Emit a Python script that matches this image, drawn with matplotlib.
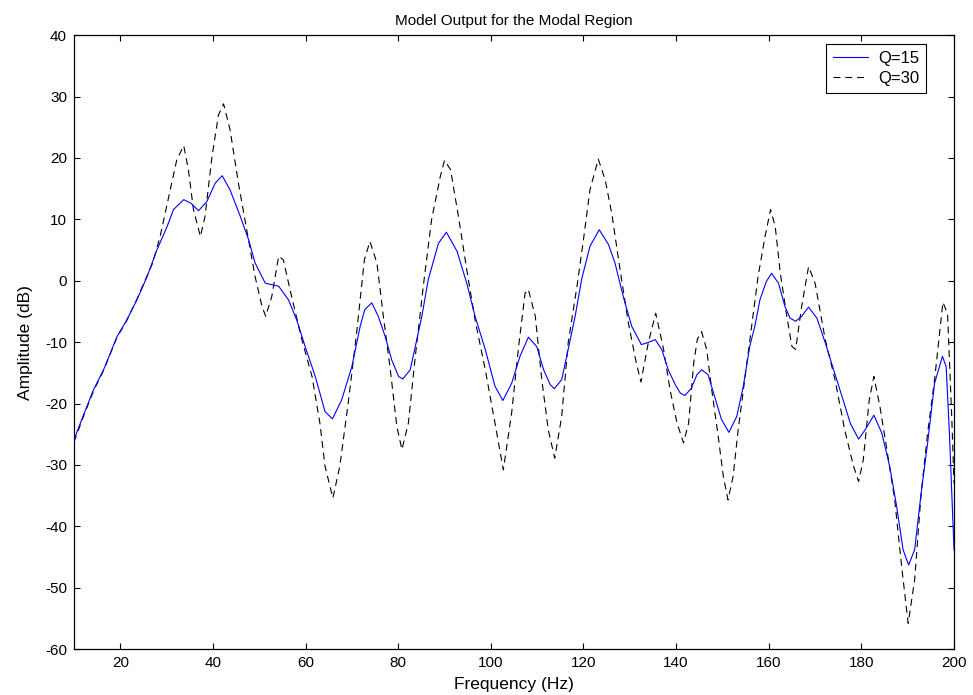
import numpy as np
import matplotlib
matplotlib.use("Agg")
from matplotlib import pyplot as plt

# Q=15 curve (solid blue)
freq_q15 = [10, 12.1, 14.2, 16.4, 19.3, 21.4, 23.6, 25.8, 27.9, 30.1, 31.5, 33.7, 35.3, 36.9,
            38.7, 40.5, 42.0, 43.7, 45.9, 47.7, 49.1, 51.3, 54.2, 56.3, 58.1, 59.9, 62.1, 64.2,
            65.8, 67.8, 70.0, 71.8, 72.8, 74.3, 75.7, 77.2, 78.6, 80.1, 81.0, 82.6, 83.7, 85.1,
            86.5, 88.7, 90.4, 92.7, 94.8, 96.6, 98.8, 100.9, 102.6, 104.5, 106.3, 108.1, 109.9,
            111.4, 112.8, 113.7, 115.3, 116.7, 118.2, 119.6, 121.4, 123.4, 125.4, 126.8, 128.6,
            130.4, 132.5, 133.8, 135.5, 136.9, 138.3, 139.8, 140.9, 141.9, 143.3, 144.5, 145.5,
            146.9, 148.4, 149.8, 151.4, 153.1, 154.5, 155.9, 157.0, 158.1, 159.5, 160.6, 162.1,
            163.5, 164.6, 165.8, 167.1, 168.6, 170.4, 172.2, 174.0, 175.8, 177.6, 179.4, 180.8,
            182.7, 184.4, 186.1, 187.6, 189.0, 190.2, 191.5, 192.9, 194.3, 195.8, 197.5, 198.3,
            199.0, 200]
amp_q15 = [-25.9, -21.8, -17.8, -14.5, -9.1, -6.4, -3.1, 0.7, 5.0, 8.8, 11.6, 13.2, 12.6, 11.4,
           12.9, 15.9, 17.1, 14.8, 10.5, 6.7, 2.9, -0.4, -0.9, -3.1, -6.4, -10.7, -15.6, -21.3,
           -22.5, -19.4, -14.0, -7.4, -4.7, -3.6, -5.8, -9.1, -12.9, -15.6, -16.0, -14.5, -10.7,
           -5.8, 0.2, 6.1, 7.9, 4.8, -0.4, -5.8, -11.2, -17.2, -19.5, -16.7, -12.3, -9.2, -10.7,
           -14.5, -16.9, -17.6, -16.1, -11.2, -5.8, 0.2, 5.6, 8.3, 5.9, 2.9, -2.6,
           -7.4, -10.4, -10.1, -9.6, -11.2, -14.5, -16.9, -18.3, -18.7, -17.5, -15.3, -14.5,
           -15.3, -19.1, -22.6, -24.7, -22.1, -17.2, -10.7, -7.4, -3.1, -0.1, 1.2, -0.4,
           -4.2, -6.1, -6.6, -5.8, -4.3, -6.1, -10.1, -14.5, -18.8, -23.2, -25.8, -24.3,
           -21.9, -24.8, -30.2, -36.7, -43.8, -46.3, -43.8, -34.6, -26.4, -16.7, -12.3, -14.0,
           -24.8, -43.8]

# Q=30 curve (dashed black)
freq_q30 = [10, 12.1, 14.2, 16.4, 19.3, 21.4, 23.6, 25.8, 27.0, 28.6, 30.8, 32.2, 33.7, 34.7,
            35.8, 37.3, 38.3, 39.8, 41.2, 42.3, 43.7, 45.5, 47.3, 49.1, 50.6, 51.4, 52.7, 54.2,
            55.2, 57.0, 59.2, 61.4, 63.1, 64.2, 65.9, 67.4, 69.3, 71.1, 72.7, 73.9, 75.4, 76.8,
            78.3, 79.7, 80.8, 82.2, 83.7, 85.5, 87.2, 89.1, 90.0, 91.3, 93.0, 94.8, 96.6, 98.8,
            100.9, 102.7, 104.5, 106.0, 107.4, 108.1, 109.6, 111.0, 112.4, 113.8, 115.3, 116.7,
            118.6, 120.0, 121.4, 123.2, 124.7, 126.1, 127.9, 129.7, 131.3, 132.4, 134.0, 135.6,
            137.3, 138.7, 140.2, 141.6, 142.7, 143.8, 144.6, 145.5, 146.6, 147.7, 149.1, 150.2,
            151.2, 152.3, 153.4, 154.9, 156.3, 157.7, 159.2, 160.4, 161.4, 162.5, 163.9, 165.0,
            165.8, 167.1, 168.6, 170.0, 172.2, 174.3, 176.4, 178.3, 179.4, 180.4, 181.7, 182.7,
            184.0, 185.4, 187.2, 188.7, 190.1, 191.5, 192.9, 194.3, 195.8, 197.6, 198.6, 199.0,
            199.5, 200]
amp_q30 = [-26.3, -22.0, -18.0, -14.6, -9.2, -6.5, -3.0, 0.8, 2.9, 7.2, 14.8, 19.7, 22.0, 18.1,
           11.6, 7.2, 10.5, 20.2, 27.0, 28.8, 24.6, 15.9, 8.3, 0.7, -4.2, -5.8, -2.6, 4.0,
           3.4, -2.6, -9.6, -15.6, -23.2, -30.2, -35.4, -30.2, -19.4, -8.0, 3.4, 6.4, 2.9, -5.8,
           -14.5, -23.7, -27.5, -23.2, -12.3, -0.4, 9.9, 17.0, 19.6, 18.1, 10.5, 1.8, -6.4, -14.5,
           -23.2, -30.8, -21.5, -10.7, -2.0, -1.4, -5.8, -16.1, -24.3, -28.9, -22.1, -10.1,
           -0.9, 6.7, 14.8, 19.8, 16.4, 11.0, 1.8, -6.9, -13.0, -16.5, -10.1, -5.3,
           -11.2, -17.8, -23.2, -26.4, -23.2, -13.4, -9.5, -8.3, -11.2, -17.8, -25.4, -31.9,
           -35.7, -31.9, -24.3, -15.6, -7.4, 0.7, 7.2, 11.6, 8.8, 1.2, -5.8, -10.7,
           -11.2, -4.2, 2.3, -0.4, -9.6, -16.1, -24.3, -30.2, -32.7, -29.2, -19.4, -15.6,
           -20.5, -27.0, -35.7, -46.6, -55.8, -48.7, -34.6, -24.8, -16.1, -3.5, -5.4, -12.9,
           -22.1, -33.0]

x_ticks = np.arange(20, 201, 20)
y_ticks = np.arange(-60, 41, 10)

plt.rcParams['font.family'] = ['Liberation Sans', 'DejaVu Sans']
plt.rcParams['lines.scale_dashes'] = False
plt.rcParams['axes.unicode_minus'] = False

fig = plt.figure(figsize=(9.73, 6.95), dpi=100)
ax = fig.add_axes([0.076, 0.066, 0.9045, 0.8835])

ax.plot(freq_q15, amp_q15, color='#0000ff', linewidth=0.8, label='Q=15', zorder=3)
ax.plot(freq_q30, amp_q30, color='black', linewidth=0.8, linestyle=(0, (5, 3.5)),
        label='Q=30', zorder=2)

ax.set_xlim(10, 200)
ax.set_ylim(-60, 40)
ax.set_xticks(x_ticks)
ax.set_yticks(y_ticks)
ax.tick_params(direction='in', length=4, width=0.8, top=True, right=True, labelsize=11,
               pad=5)
for s in ax.spines.values():
    s.set_linewidth(0.9)

ax.set_title('Model Output for the Modal Region', fontsize=11, pad=7)
ax.set_xlabel('Frequency (Hz)', fontsize=12.5, labelpad=5)
ax.set_ylabel('Amplitude (dB)', fontsize=12.5, labelpad=9)

leg = ax.legend(loc='upper right', bbox_to_anchor=(0.968, 0.985), fontsize=12,
                fancybox=False, framealpha=1, edgecolor='black', handlelength=2.1,
                borderpad=0.4, labelspacing=0.3, handletextpad=0.6, borderaxespad=0)
leg.get_frame().set_linewidth(0.8)

fig.savefig('out.png', dpi=100)
